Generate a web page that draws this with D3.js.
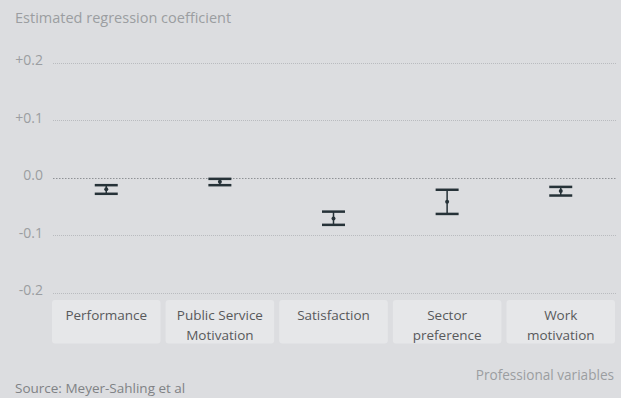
<!DOCTYPE html>
<html><head><meta charset="utf-8">
<script src="https://cdn.jsdelivr.net/npm/d3@7"></script>
<style>
html,body{margin:0;padding:0;background:#dcdde0;overflow:hidden}
svg{display:block;font-family:"Open Sans",sans-serif}
</style></head><body>
<svg id="chart" width="621" height="398"></svg>
<script>
const categories = ["Performance", "Public Service\nMotivation", "Satisfaction", "Sector\npreference", "Work\nmotivation"];
const estimates = [-0.020, -0.007, -0.071, -0.042, -0.023];
const lower = [-0.028, -0.013, -0.082, -0.063, -0.031];
const upper = [-0.013, -0.002, -0.059, -0.021, -0.016];
const yTicks = [0.2, 0.1, 0.0, -0.1, -0.2];
const yTickLabels = ["+0.2", "+0.1", "0.0", "-0.1", "-0.2"];

const svg = d3.select("#chart");
const W = 621, H = 398;
svg.append("rect").attr("width", W).attr("height", H).attr("fill", "#dcdde0");

const x = d3.scaleBand().domain(categories).range([52, 615]).paddingInner(0.045).paddingOuter(0);
const y = d3.scaleLinear().domain([-0.2, 0.2]).range([292.7, 62.7]);

// title
svg.append("text").attr("x", 15).attr("y", 23).attr("fill", "#9b9da1")
  .attr("font-size", 14.5).text("Estimated regression coefficient");

// gridlines
const g = svg.append("g");
g.selectAll("line.grid").data(yTicks).join("line")
  .attr("x1", 53).attr("x2", 616)
  .attr("y1", d => Math.round(y(d)) + 0.5).attr("y2", d => Math.round(y(d)) + 0.5)
  .attr("stroke", d => d === 0 ? "#8f9296" : "#b0b2b6")
  .attr("stroke-width", d => d === 0 ? 1.2 : 0.8)
  .attr("stroke-dasharray", d => d === 0 ? "1.5,1.5" : "1,1");

g.selectAll("text.tick").data(yTicks).join("text")
  .attr("x", 43).attr("y", d => y(d) + 2.5)
  .attr("text-anchor", "end").attr("fill", "#9b9da1").attr("font-size", 14)
  .text((d, i) => yTickLabels[i]);

// category boxes
const cat = svg.append("g").selectAll("g").data(categories).join("g")
  .attr("transform", d => `translate(${x(d)},300)`);
cat.append("rect").attr("width", x.bandwidth()).attr("height", 43.5).attr("rx", 3)
  .attr("fill", "#e6e7e9");
cat.each(function(d) {
  const lines = d.split("\n");
  const t = d3.select(this).append("text").attr("text-anchor", "middle")
    .attr("fill", "#58595b").attr("font-size", 13.5);
  lines.forEach((l, i) => {
    t.append("tspan").attr("x", x.bandwidth() / 2).attr("y", 20 + i * 19.5).text(l);
  });
});

// error bars
const color = "#263238";
const eb = svg.append("g").selectAll("g").data(categories).join("g")
  .attr("transform", d => `translate(${x(d) + x.bandwidth() / 2},0)`);
const capW = 23;
eb.append("line").attr("x1", 0).attr("x2", 0)
  .attr("y1", (d, i) => y(upper[i])).attr("y2", (d, i) => y(lower[i]))
  .attr("stroke", color).attr("stroke-width", 1.5);
eb.append("line").attr("x1", -capW / 2).attr("x2", capW / 2)
  .attr("y1", (d, i) => y(upper[i])).attr("y2", (d, i) => y(upper[i]))
  .attr("stroke", color).attr("stroke-width", 2.5);
eb.append("line").attr("x1", -capW / 2).attr("x2", capW / 2)
  .attr("y1", (d, i) => y(lower[i])).attr("y2", (d, i) => y(lower[i]))
  .attr("stroke", color).attr("stroke-width", 2.5);
eb.append("circle").attr("cx", 0).attr("cy", (d, i) => y(estimates[i])).attr("r", 2)
  .attr("fill", color);

// axis label and source
svg.append("text").attr("x", 614).attr("y", 380).attr("text-anchor", "end")
  .attr("fill", "#9b9da1").attr("font-size", 13.6).text("Professional variables");
svg.append("text").attr("x", 15).attr("y", 393).attr("fill", "#808285")
  .attr("font-size", 13.5).text("Source: Meyer-Sahling et al");
</script>
</body></html>
